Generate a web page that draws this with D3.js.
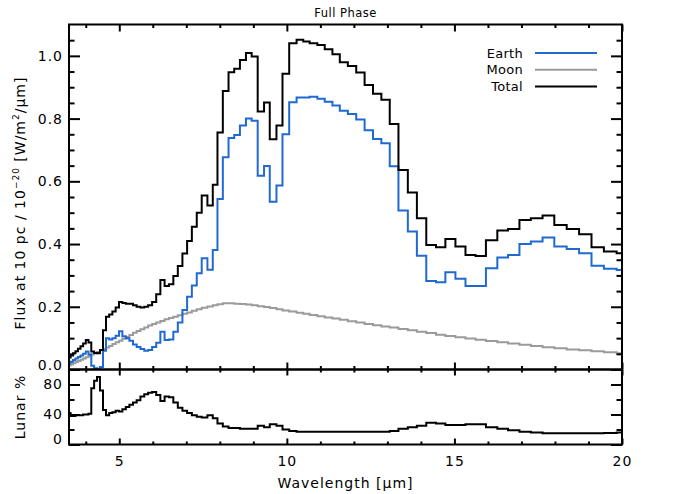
<!DOCTYPE html>
<html>
<head>
<meta charset="utf-8">
<script src="https://cdn.jsdelivr.net/npm/d3@7"></script>
<style>
  body { margin: 0; background: #fff; }
  text { font-family: "DejaVu Sans", sans-serif; fill: #000; }
</style>
</head>
<body>
<svg id="chart" width="692" height="494"></svg>
<script>
// Spectral bins (left edges, last value closes the final bin), microns
const binEdges = [3.476, 3.547, 3.618, 3.692, 3.767, 3.843, 3.921, 4.001, 4.082, 4.165,
    4.250, 4.336, 4.424, 4.514, 4.605, 4.699, 4.794, 4.892, 4.991, 5.092,
    5.196, 5.301, 5.409, 5.519, 5.631, 5.745, 5.861, 5.980, 6.102, 6.226,
    6.352, 6.481, 6.613, 6.747, 6.884, 7.024, 7.166, 7.312, 7.46, 7.63,
    7.79, 7.93, 8.09, 8.26, 8.43, 8.60, 8.78, 8.95, 9.13, 9.32,
    9.49, 9.69, 9.87, 10.07, 10.29, 10.49, 10.68, 10.91, 11.13, 11.36,
    11.58, 11.82, 12.07, 12.32, 12.57, 12.82, 13.07, 13.33, 13.61, 13.88,
    14.16, 14.45, 14.73, 15.03, 15.33, 15.63, 15.94, 16.28, 16.60, 16.94,
    17.28, 17.63, 17.98, 18.35, 18.72, 19.09, 19.46, 19.84, 20.23];

// Flux at 10 pc, units of 1e-20 W/m^2/um
const totalFlux = [0.038, 0.045, 0.052, 0.058, 0.066, 0.074, 0.083, 0.094, 0.086, 0.057,
    0.053, 0.052, 0.062, 0.125, 0.168, 0.175, 0.185, 0.198, 0.215, 0.212,
    0.210, 0.210, 0.205, 0.200, 0.198, 0.200, 0.205, 0.215, 0.240, 0.285,
    0.266, 0.272, 0.298, 0.330, 0.370, 0.410, 0.455, 0.500, 0.555, 0.523,
    0.589, 0.756, 0.888, 0.948, 0.959, 0.987, 1.009, 0.998, 0.823, 0.851,
    0.734, 0.778, 0.943, 1.040, 1.051, 1.046, 1.040, 1.035, 1.021, 1.005,
    0.980, 0.968, 0.947, 0.907, 0.879, 0.860, 0.783, 0.636, 0.564, 0.482,
    0.397, 0.390, 0.416, 0.392, 0.365, 0.362, 0.412, 0.443, 0.448, 0.477,
    0.482, 0.491, 0.461, 0.448, 0.431, 0.390, 0.376, 0.371];

const earthFlux = [0.020, 0.025, 0.030, 0.035, 0.040, 0.045, 0.050, 0.057, 0.048, 0.012,
    0.004, 0.002, 0.008, 0.060, 0.100, 0.096, 0.100, 0.108, 0.122, 0.106,
    0.100, 0.092, 0.080, 0.072, 0.065, 0.060, 0.062, 0.072, 0.085, 0.120,
    0.094, 0.096, 0.120, 0.150, 0.190, 0.232, 0.268, 0.307, 0.355, 0.318,
    0.381, 0.544, 0.677, 0.738, 0.748, 0.778, 0.800, 0.793, 0.618, 0.649,
    0.535, 0.587, 0.750, 0.852, 0.867, 0.867, 0.870, 0.863, 0.854, 0.842,
    0.825, 0.815, 0.797, 0.763, 0.735, 0.721, 0.648, 0.507, 0.440, 0.363,
    0.282, 0.278, 0.310, 0.289, 0.266, 0.266, 0.323, 0.357, 0.365, 0.400,
    0.408, 0.421, 0.392, 0.384, 0.371, 0.331, 0.321, 0.317];

const moonFlux = [0.013, 0.016, 0.020, 0.024, 0.027, 0.031, 0.035, 0.039, 0.043, 0.048,
    0.052, 0.056, 0.061, 0.065, 0.070, 0.075, 0.081, 0.087, 0.092, 0.098,
    0.104, 0.110, 0.117, 0.123, 0.128, 0.134, 0.140, 0.145, 0.150, 0.155,
    0.160, 0.164, 0.168, 0.173, 0.178, 0.182, 0.187, 0.192, 0.197, 0.201,
    0.205, 0.208, 0.211, 0.211, 0.210, 0.209, 0.207, 0.205, 0.202, 0.199,
    0.196, 0.192, 0.188, 0.185, 0.181, 0.178, 0.174, 0.170, 0.166, 0.163,
    0.159, 0.154, 0.150, 0.145, 0.141, 0.137, 0.134, 0.129, 0.125, 0.120,
    0.116, 0.111, 0.107, 0.103, 0.099, 0.095, 0.091, 0.087, 0.083, 0.079,
    0.075, 0.071, 0.068, 0.064, 0.061, 0.058, 0.055, 0.052];

// Lunar contribution to the total, percent
const lunarPct = [42, 38, 38, 39, 39, 39, 40, 40, 41, 75,
    85, 90, 72, 46, 39, 42, 43, 45, 44, 47,
    50, 53, 56, 59, 64, 67, 69, 70, 66, 58,
    64, 63, 56, 49, 45, 42, 39, 37, 36, 39,
    35, 28, 24, 22, 22, 21, 21, 21, 25, 23,
    27, 25, 20, 18, 17, 17, 17, 17, 17, 17,
    17, 17, 17, 17, 17, 17, 18, 21, 23, 25,
    29, 28, 26, 26, 27, 27, 23, 21, 19, 17,
    16, 15, 15, 15, 15, 15, 15.5, 16];

// Ticks
const xMajor = [5, 10, 15, 20];
const xMinor = [4, 6, 7, 8, 9, 11, 12, 13, 14, 16, 17, 18, 19];
const fluxMajor = [0, 0.2, 0.4, 0.6, 0.8, 1.0];
const fluxMinor = [0.05, 0.1, 0.15, 0.25, 0.3, 0.35, 0.45, 0.5, 0.55, 0.65, 0.7, 0.75, 0.85, 0.9, 0.95, 1.05];
const lunarMajor = [0, 40, 80];
const lunarMinor = [20, 60];

const series = [
    { name: 'Earth', values: earthFlux, color: '#1f69d1' },
    { name: 'Moon', values: moonFlux, color: '#9a9a9a' },
    { name: 'Total', values: totalFlux, color: '#000000' }
];

const svg = d3.select('#chart');
const plotLeft = 69, plotRight = 622, plotTop = 24.5, plotMid = 369.5, plotBottom = 444.5;

const x = d3.scaleLinear().domain([3.5, 20]).range([plotLeft, plotRight]);
const yFlux = d3.scaleLinear().domain([0, 1.1]).range([plotMid, plotTop]);
const yLunar = d3.scaleLinear().domain([0, 100]).range([plotBottom, plotMid]);

svg.append('rect').attr('width', 692).attr('height', 494).attr('fill', '#fff');

const defs = svg.append('defs');
defs.append('clipPath').attr('id', 'clipMain').append('rect')
    .attr('x', plotLeft).attr('y', plotTop)
    .attr('width', plotRight - plotLeft).attr('height', plotMid - plotTop);
defs.append('clipPath').attr('id', 'clipLow').append('rect')
    .attr('x', plotLeft).attr('y', plotMid)
    .attr('width', plotRight - plotLeft).attr('height', plotBottom - plotMid);

function stepPoints(values) {
    const pts = values.map((v, i) => [binEdges[i], v]);
    pts.push([binEdges[values.length], values[values.length - 1]]);
    return pts;
}

const fluxLine = d3.line().x(d => x(d[0])).y(d => yFlux(d[1])).curve(d3.curveStepAfter);
const lunarLine = d3.line().x(d => x(d[0])).y(d => yLunar(d[1])).curve(d3.curveStepAfter);

// draw Moon, Earth, then Total on top
const plotG = svg.append('g').attr('clip-path', 'url(#clipMain)');
[series[1], series[0], series[2]].forEach(s => {
    plotG.append('path')
        .attr('d', fluxLine(stepPoints(s.values)))
        .attr('fill', 'none')
        .attr('stroke', s.color)
        .attr('stroke-width', 2);
});

svg.append('g').attr('clip-path', 'url(#clipLow)')
    .append('path')
    .attr('d', lunarLine(stepPoints(lunarPct)))
    .attr('fill', 'none')
    .attr('stroke', '#000')
    .attr('stroke-width', 2);

// axes helper: inward ticks, optional labels
function addAxis(axisFn, scale, values, size, transform, labels, pad) {
    const ax = axisFn(scale).tickValues(values).tickSizeInner(-size).tickSizeOuter(0)
        .tickPadding(pad || 6);
    if (labels) ax.tickFormat(labels); else ax.tickFormat('');
    const g = svg.append('g').attr('transform', transform).call(ax);
    g.select('.domain').remove();
    g.selectAll('line').attr('stroke', '#000').attr('stroke-width', 2);
    g.selectAll('text').attr('font-size', 14).attr('letter-spacing', 1)
        .style('font-family', '"DejaVu Sans", sans-serif');
    return g;
}

// x ticks on each horizontal edge
addAxis(d3.axisTop, x, xMajor, 7, `translate(0,${plotTop})`);
addAxis(d3.axisTop, x, xMinor, 3.5, `translate(0,${plotTop})`);
addAxis(d3.axisBottom, x, xMajor, 7, `translate(0,${plotMid})`);
addAxis(d3.axisBottom, x, xMinor, 3.5, `translate(0,${plotMid})`);
addAxis(d3.axisTop, x, xMajor, 6, `translate(0,${plotMid})`);
addAxis(d3.axisTop, x, xMinor, 3, `translate(0,${plotMid})`);
addAxis(d3.axisBottom, x, xMajor, 6, `translate(0,${plotBottom})`, d3.format('d'), 12);
addAxis(d3.axisBottom, x, xMinor, 3, `translate(0,${plotBottom})`);

// flux axis
const gFlux = addAxis(d3.axisLeft, yFlux, fluxMajor, 11, `translate(${plotLeft},0)`, d3.format('.1f'));
addAxis(d3.axisLeft, yFlux, fluxMinor, 5.5, `translate(${plotLeft},0)`);
addAxis(d3.axisRight, yFlux, fluxMajor, 11, `translate(${plotRight},0)`);
addAxis(d3.axisRight, yFlux, fluxMinor, 5.5, `translate(${plotRight},0)`);
gFlux.selectAll('.tick').filter(d => d === 0).select('text').attr('y', -4);

// lunar axis
const gLunar = addAxis(d3.axisLeft, yLunar, lunarMajor, 11, `translate(${plotLeft},0)`, d3.format('d'));
addAxis(d3.axisLeft, yLunar, lunarMinor, 5.5, `translate(${plotLeft},0)`);
addAxis(d3.axisRight, yLunar, lunarMajor, 11, `translate(${plotRight},0)`);
addAxis(d3.axisRight, yLunar, lunarMinor, 5.5, `translate(${plotRight},0)`);
gLunar.selectAll('.tick').filter(d => d === 0).select('text').attr('y', -5);

// frames
[[plotTop, plotMid], [plotMid, plotBottom]].forEach(([y0, y1]) => {
    svg.append('rect')
        .attr('x', plotLeft).attr('y', y0)
        .attr('width', plotRight - plotLeft).attr('height', y1 - y0)
        .attr('fill', 'none').attr('stroke', '#000').attr('stroke-width', 2);
});

// titles
svg.append('text').attr('x', (plotLeft + plotRight) / 2).attr('y', 17)
    .attr('text-anchor', 'middle').attr('font-size', 11.5).attr('letter-spacing', 0.5)
    .text('Full Phase');

svg.append('text').attr('x', (plotLeft + plotRight) / 2).attr('y', 488)
    .attr('text-anchor', 'middle').attr('font-size', 14).attr('letter-spacing', 1)
    .text('Wavelength [\u03bcm]');

const yLab = svg.append('text')
    .attr('transform', `translate(25,${(plotTop + plotMid) / 2 + 6}) rotate(-90)`)
    .attr('text-anchor', 'middle').attr('font-size', 14).attr('letter-spacing', 1);
yLab.append('tspan').text('Flux at 10 pc / 10');
yLab.append('tspan').attr('dy', -6).attr('font-size', 9).text('\u221220');
yLab.append('tspan').attr('dy', 6).text(' [W/m');
yLab.append('tspan').attr('dy', -6).attr('font-size', 9).text('2');
yLab.append('tspan').attr('dy', 6).text('/\u03bcm]');

svg.append('text')
    .attr('transform', `translate(25,${(plotMid + plotBottom) / 2}) rotate(-90)`)
    .attr('text-anchor', 'middle').attr('font-size', 14).attr('letter-spacing', 1)
    .text('Lunar %');

// legend
const legend = svg.append('g');
series.forEach((s, i) => {
    const ly = 53 + i * 16.7;
    legend.append('text').attr('x', 523).attr('y', ly + 4.5)
        .attr('text-anchor', 'end').attr('font-size', 13).attr('letter-spacing', 0.3)
        .text(s.name);
    legend.append('line').attr('x1', 535).attr('x2', 597).attr('y1', ly).attr('y2', ly)
        .attr('stroke', s.color).attr('stroke-width', 2);
});
</script>
</body>
</html>
